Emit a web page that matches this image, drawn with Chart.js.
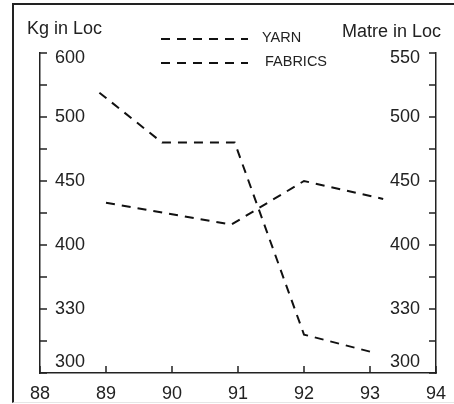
<!doctype html>
<html lang="en">
<head>
    <meta charset="utf-8">
    <title>Yarn and Fabrics</title>
    <style>
        body { margin: 0; background: #fff; }
        #wrap { position: relative; width: 454px; height: 404px; }
        /* outer frame: dark left/top edge, faint bottom */
        #frame {
            position: absolute; left: 12px; top: 3px; right: 0; height: 397px;
            border-left: 2px solid #222; border-top: 2px solid #222;
            border-bottom: 1px solid #e6e6e6;
        }
        #myChart { position: absolute; left: 0; top: 0; }
    </style>
</head>
<body>
    <div id="wrap">
        <div id="frame"></div>
        <canvas id="myChart" width="454" height="404"></canvas>
    </div>

    <script src="https://cdn.jsdelivr.net/npm/chart.js"></script>
    <script>
        // tick labels, one every two minor steps (bottom to top)
        var kgLabels = [300, 330, 400, 450, 500, 600];
        var metreLabels = [300, 330, 400, 450, 500, 550];
        var yearTicks = [88, 89, 90, 91, 92, 93, 94];

        var leftTitle = 'Kg in Loc';
        var rightTitle = 'Matre in Loc';

        var yarnYears = [88.9, 89.85, 90.95, 92, 93];
        var yarnKg = [538, 480, 480, 318, 310];

        var fabricYears = [89, 90.9, 92, 93.2];
        var fabricMetre = [433, 416, 450, 436];

        var FONT = 'Liberation Sans, Arial, sans-serif';
        var INK = '#222';

        // the axis labels are not evenly spaced in value, so map a value
        // onto the minor-step position between the two labels around it
        function toStep(v, labels) {
            for (var i = 0; i < labels.length - 1; i++) {
                if (v <= labels[i + 1] || i === labels.length - 2) {
                    var f = (v - labels[i]) / (labels[i + 1] - labels[i]);
                    return 2 * (i + f);
                }
            }
            return 0;
        }

        function points(xs, ys, labels) {
            return xs.map(function (x, i) { return { x: x, y: toStep(ys[i], labels) }; });
        }

        function stepLabel(labels) {
            return function (value) {
                if (value % 2 !== 0) return '';
                var txt = String(labels[value / 2]);
                if (value === 0) return [txt, ''];   // lift the bottom label off the x axis
                if (value === 10) return ['', txt];  // drop the top label a little
                return txt;
            };
        }

        function tickFont(ctx) {
            var lh = (ctx.tick && ctx.tick.value === 10) ? '10px' : 1.2;
            return { family: FONT, size: 18, lineHeight: lh };
        }

        // short tick marks pointing into the plot
        var innerTicks = {
            id: 'innerTicks',
            afterDraw: function (chart) {
                var c = chart.ctx, a = chart.chartArea;
                c.save();
                c.strokeStyle = INK;
                c.lineWidth = 1.5;
                c.beginPath();
                chart.scales.x.ticks.forEach(function (t) {
                    var px = chart.scales.x.getPixelForValue(t.value);
                    c.moveTo(px, a.bottom);
                    c.lineTo(px, a.bottom - 7);
                });
                chart.scales.yL.ticks.forEach(function (t) {
                    var py = chart.scales.yL.getPixelForValue(t.value);
                    c.moveTo(a.left, py);
                    c.lineTo(a.left + 7, py);
                });
                chart.scales.yR.ticks.forEach(function (t) {
                    var py = chart.scales.yR.getPixelForValue(t.value);
                    c.moveTo(a.right, py);
                    c.lineTo(a.right - 7, py);
                });
                c.stroke();
                c.restore();
            }
        };

        // axis captions and the dashed-line key
        var captions = {
            id: 'captions',
            afterDraw: function (chart) {
                var c = chart.ctx;
                c.save();
                c.fillStyle = INK;
                c.font = '18px ' + FONT;
                c.textBaseline = 'alphabetic';
                c.textAlign = 'left';
                c.fillText(leftTitle, 27, 34);
                c.textAlign = 'right';
                c.fillText(rightTitle, 441, 37);

                c.font = '14.5px ' + FONT;
                c.textAlign = 'left';
                chart.data.datasets.forEach(function (ds, i) {
                    var y = 39 + 24 * i;
                    c.strokeStyle = ds.borderColor;
                    c.lineWidth = ds.borderWidth;
                    c.setLineDash(ds.borderDash);
                    c.beginPath();
                    c.moveTo(161, y);
                    c.lineTo(248, y);
                    c.stroke();
                    c.fillText(ds.label, 262 + 3 * i, y + 3);
                });
                c.restore();
            }
        };

        var axisBorder = { display: true, color: INK, width: 1.5 };
        var noGrid = { display: true, drawOnChartArea: false, drawTicks: false };

        // labels sit inside the plot, so the y axes take no room of their own
        function flatY(s) {
            s.width = 0;
            s.paddingTop = 0;
            s.paddingBottom = 0;
        }

        new Chart('myChart', {
            type: 'line',
            data: {
                datasets: [{
                    label: 'YARN',
                    data: points(yarnYears, yarnKg, kgLabels),
                    yAxisID: 'yL',
                    borderColor: '#111',
                    borderWidth: 2,
                    borderDash: [9, 7],
                    pointRadius: 0,
                    tension: 0
                }, {
                    label: 'FABRICS',
                    data: points(fabricYears, fabricMetre, metreLabels),
                    yAxisID: 'yR',
                    borderColor: '#111',
                    borderWidth: 2,
                    borderDash: [9, 7],
                    pointRadius: 0,
                    tension: 0
                }]
            },
            options: {
                responsive: false,
                animation: false,
                layout: { padding: { left: 40, right: 18, top: 53, bottom: 0 } },
                plugins: { legend: { display: false }, tooltip: { enabled: false } },
                scales: {
                    x: {
                        type: 'linear',
                        min: yearTicks[0],
                        max: yearTicks[yearTicks.length - 1],
                        afterBuildTicks: function (s) {
                            s.ticks = yearTicks.map(function (v) { return { value: v }; });
                        },
                        afterFit: function (s) {
                            s.height = 31;
                            s.paddingLeft = 0;
                            s.paddingRight = 0;
                        },
                        grid: noGrid,
                        border: axisBorder,
                        ticks: {
                            color: INK,
                            padding: 10,
                            maxRotation: 0,
                            font: { family: FONT, size: 18 },
                            callback: function (v) { return String(v); }
                        }
                    },
                    yL: {
                        position: 'left',
                        min: 0,
                        max: 10,
                        afterFit: flatY,
                        grid: noGrid,
                        border: axisBorder,
                        ticks: {
                            stepSize: 1,
                            autoSkip: false,
                            mirror: true,
                            padding: 15,
                            color: INK,
                            font: tickFont,
                            callback: stepLabel(kgLabels)
                        }
                    },
                    yR: {
                        position: 'right',
                        min: 0,
                        max: 10,
                        afterFit: flatY,
                        grid: noGrid,
                        border: axisBorder,
                        ticks: {
                            stepSize: 1,
                            autoSkip: false,
                            mirror: true,
                            padding: -16,
                            color: INK,
                            font: tickFont,
                            callback: stepLabel(metreLabels)
                        }
                    }
                }
            },
            plugins: [innerTicks, captions]
        });
    </script>
</body>
</html>
